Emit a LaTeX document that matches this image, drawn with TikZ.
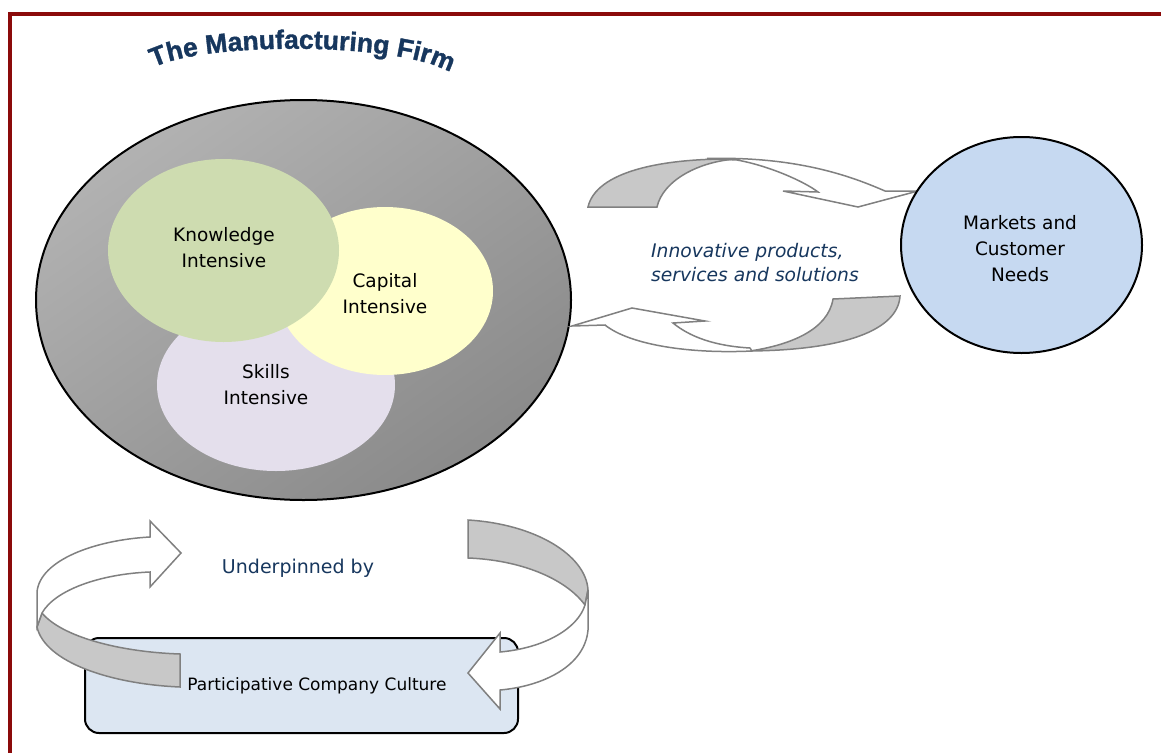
\documentclass[tikz,border=0pt]{standalone}
\usepackage{fontspec}
\setmainfont{DejaVu Sans}
\newfontfamily\mfTitleFont{Liberation Sans}[BoldFeatures={FakeBold=1.3}]
\usetikzlibrary{shapes.geometric,decorations.text}
\definecolor{frameRed}{HTML}{8B0A0A}
\definecolor{navyText}{HTML}{17375E}
\definecolor{ellLight}{HTML}{B2B2B2}
\definecolor{ellDark}{HTML}{8A8A8A}
\definecolor{knowGreen}{HTML}{CEDCB0}
\definecolor{capYellow}{HTML}{FFFFCC}
\definecolor{skillLav}{HTML}{E4DFEC}
\definecolor{mktBlue}{HTML}{C6D9F1}
\definecolor{cultBlue}{HTML}{DCE6F2}
\definecolor{arrowLine}{HTML}{808080}
\definecolor{arrowGray}{HTML}{C8C8C8}
\begin{document}
\begin{tikzpicture}[x=1pt, y=-1pt,
  oval/.style={ellipse, inner sep=0pt},
  lbl/.style={font=\fontsize{18.5}{26}\selectfont, align=center, inner sep=0pt, text=black},
  bluelbl/.style={font=\fontsize{19}{24}\selectfont, inner sep=0pt, text=navyText},
  ribbonfront/.style={draw=arrowLine, line width=1.5pt, fill=white, line join=miter},
  ribbonback/.style={draw=arrowLine, line width=1.5pt, fill=arrowGray, line join=miter}]
\useasboundingbox (0,0) rectangle (1161,752);
\fill[white] (0,0) rectangle (1161,752);
% frame
\draw[frameRed, line width=4pt, line join=miter] (10.3,760) -- (10.3,13.7) -- (1170,13.7);

% title
\path[decorate, decoration={text along path, text align=center, text color=navyText,
  text={|\mfTitleFont\bfseries\fontsize{26.5}{30}\selectfont|The Manufacturing Firm}}]
  (153,68) .. controls (200,42) and (400,41) .. (451,73);

% the firm
\node[oval, draw=black, line width=2pt, top color=ellLight, bottom color=ellDark, shading angle=35,
  minimum width=535pt, minimum height=400pt] (firm) at (303.5,300) {};
\node[oval, fill=skillLav, minimum width=238pt, minimum height=172pt] (skills) at (276,385) {};
\node[oval, fill=capYellow, minimum width=216pt, minimum height=168pt] (capital) at (385,291) {};
\node[oval, fill=knowGreen, minimum width=231pt, minimum height=183pt] (knowledge) at (223.5,250.5) {};
\node[lbl] (knowtxt) at (224,248) {Knowledge\\Intensive};
\node[lbl] (captxt) at (385,294) {Capital\\Intensive};
\node[lbl] (skilltxt) at (266,384.5) {Skills\\Intensive};

% top right curved arrow
\filldraw[ribbonback] (588,207) .. controls (596,172) and (660,158) .. (737,159)
  .. controls (700,161) and (663,180) .. (657,207) -- cycle;
\filldraw[ribbonfront] (707,158.5) .. controls (800,156) and (855,178) .. (885,191)
  -- (918,191) -- (858,207) -- (783,191) -- (818,192)
  .. controls (805,182) and (770,166) .. (737,160) -- cycle;
% bottom right curved arrow
\filldraw[ribbonback] (833,299) -- (900,296) .. controls (898,330) and (845,350) .. (750,351)
  .. controls (790,345) and (828,330) .. (833,299) -- cycle;
\filldraw[ribbonfront] (752,351) .. controls (690,354) and (630,345) .. (605,325)
  -- (572,326) -- (632,308) -- (705,321) -- (673,323)
  .. controls (690,337) and (715,346) .. (750,348) -- cycle;

\node[bluelbl, font=\itshape\fontsize{18.7}{24}\selectfont, align=left, anchor=west] (innov) at (651,263)
  {Innovative products,\\services and solutions};

% markets
\node[oval, draw=black, line width=2pt, fill=mktBlue, minimum width=241pt, minimum height=216pt] (markets) at (1021.5,245) {};
\node[lbl] (mkttxt) at (1020,249) {Markets and\\Customer\\Needs};

% culture box
\node[draw=black, line width=2pt, fill=cultBlue, rounded corners=14pt, minimum width=433pt,
  minimum height=95pt, inner sep=0pt] (culture) at (301.5,685.5) {};
\node[lbl, font=\fontsize{17}{22}\selectfont, anchor=base] (culttxt) at (317,690) {Participative Company Culture};

% left curved arrow
\filldraw[ribbonback] (180,654) -- (180,687) .. controls (110,684) and (45,662) .. (37,627)
  -- (42,613) .. controls (62,637) and (120,652) .. (180,654) -- cycle;
\filldraw[ribbonfront] (37,627) -- (37,592) .. controls (40,560) and (95,540) .. (150,537)
  -- (150,521) -- (181,553) -- (150,587) -- (150,572)
  .. controls (100,574) and (55,590) .. (42,613) -- cycle;
% right curved arrow
\filldraw[ribbonback] (468,520) .. controls (535,524) and (586,555) .. (588,590)
  -- (585,605) .. controls (565,578) and (520,560) .. (468,558) -- cycle;
\filldraw[ribbonfront] (588,590) -- (588,630) .. controls (585,665) and (545,686) .. (500,690)
  -- (500,709) -- (468,673) -- (500,633) -- (500,652)
  .. controls (545,648) and (578,628) .. (585,605) -- cycle;

\node[bluelbl, anchor=base] (under) at (298,573) {Underpinned by};
\end{tikzpicture}
\end{document}
